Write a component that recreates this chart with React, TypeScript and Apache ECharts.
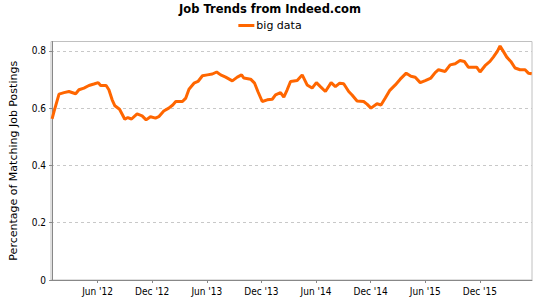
import React, { useEffect, useRef } from "react";
import * as echarts from "echarts";

// months since 1 Jan 2012 (fractional)
const months = [0.0,0.21,0.76,1.31,1.85,2.59,2.95,3.50,4.05,4.59,
  5.07,5.33,5.94,6.24,6.60,6.90,7.41,7.99,8.32,8.73,
  9.34,9.89,10.33,10.81,11.36,11.72,12.27,12.82,13.26,13.59,
  14.32,14.69,15.04,15.59,16.03,16.52,17.06,17.61,18.08,18.52,
  19.07,19.80,20.35,20.82,21.07,21.81,22.25,22.61,23.09,23.64,
  24.19,24.55,25.10,25.46,25.83,26.20,26.93,27.48,28.02,28.57,
  29.04,29.48,30.03,30.66,31.13,31.60,32.04,32.59,32.96,33.51,
  34.23,34.60,35.04,35.70,36.14,36.61,37.08,37.71,38.25,38.91,
  39.43,39.90,40.45,41.00,41.62,42.09,42.46,43.19,43.74,44.29,
  44.82,45.29,45.73,46.65,47.02,47.57,48.11,48.48,48.92,49.22,
  49.58,49.96,50.40,50.87,51.42,51.97,52.33,52.70];

const bigData = [0.562,0.588,0.649,0.654,0.658,0.650,0.664,0.670,0.679,0.684,
  0.689,0.679,0.679,0.664,0.629,0.608,0.596,0.561,0.567,0.562,
  0.580,0.573,0.559,0.570,0.565,0.570,0.590,0.600,0.611,0.623,
  0.623,0.635,0.666,0.687,0.693,0.713,0.716,0.719,0.726,0.716,
  0.708,0.695,0.708,0.716,0.705,0.701,0.687,0.658,0.623,0.629,
  0.631,0.646,0.654,0.638,0.664,0.693,0.696,0.716,0.681,0.670,
  0.689,0.675,0.658,0.689,0.675,0.687,0.685,0.658,0.646,0.625,
  0.623,0.614,0.600,0.615,0.611,0.635,0.661,0.681,0.701,0.722,
  0.711,0.708,0.689,0.696,0.705,0.724,0.734,0.728,0.751,0.755,
  0.766,0.763,0.743,0.743,0.726,0.748,0.763,0.778,0.798,0.817,
  0.798,0.778,0.763,0.740,0.734,0.734,0.722,0.720];

const xTickMonths = [5, 11, 17, 23, 29, 35, 41, 47];
const xTickLabels = ["Jun '12", "Dec '12", "Jun '13", "Dec '13", "Jun '14", "Dec '14", "Jun '15", "Dec '15"];
const yTicks = [0, 0.2, 0.4, 0.6, 0.8];

const tickFont = "'DejaVu Sans Condensed', 'Liberation Sans Narrow', sans-serif";

export default function App() {
  const ref = useRef<HTMLDivElement>(null);
  useEffect(() => {
    if (!ref.current) return;
    const chart = echarts.init(ref.current, null, { renderer: "svg" });
    chart.setOption({
      animation: false,
      backgroundColor: "#fff",
      title: {
        text: "Job Trends from Indeed.com",
        left: "center",
        top: -2,
        textStyle: { fontFamily: "DejaVu Sans", fontSize: 11.5, fontWeight: "bold", color: "#000" },
      },
      legend: {
        top: 15,
        left: "center",
        icon: "rect",
        itemWidth: 16,
        itemHeight: 3,
        itemGap: 10,
        textStyle: { fontFamily: "DejaVu Sans", fontSize: 11, color: "#000", padding: [0, 0, 0, -3] },
        data: ["big data"],
      },
      grid: {
        left: 50, right: 8, top: 41.5, bottom: 20,
        show: true, borderColor: "#c0c0c0", borderWidth: 1,
      },
      xAxis: {
        type: "value",
        min: -0.12,
        max: 52.73,
        axisLine: { show: true, lineStyle: { color: "#888" } },
        axisTick: { show: true, length: 3, customValues: xTickMonths, lineStyle: { color: "#888" } },
        axisLabel: {
          customValues: xTickMonths,
          margin: 6,
          fontFamily: tickFont,
          fontSize: 10,
          color: "#000",
          formatter: (v: number) => {
            const i = xTickMonths.indexOf(Math.round(v));
            return i >= 0 ? xTickLabels[i] : "";
          },
        },
        splitLine: { show: false },
      },
      yAxis: {
        type: "value",
        min: 0,
        max: 0.8325,
        name: "Percentage of Matching Job Postings",
        nameLocation: "middle",
        nameGap: 32,
        nameTextStyle: { fontFamily: "DejaVu Sans", fontSize: 11, color: "#000" },
        axisLine: { show: true, lineStyle: { color: "#888" } },
        axisTick: { show: true, length: 3, customValues: yTicks, lineStyle: { color: "#888" } },
        axisLabel: {
          customValues: yTicks,
          margin: 5,
          fontFamily: tickFont,
          fontSize: 10,
          color: "#000",
          formatter: (v: number) => (v === 0 ? "0" : String(Math.round(v * 10) / 10)),
        },
        splitLine: { show: true, lineStyle: { color: "#c8c8c8", type: [3, 3] } },
      },
      series: [
        {
          name: "big data",
          type: "line",
          showSymbol: false,
          symbol: "none",
          data: months.map((m, i) => [m, bigData[i]]),
          lineStyle: { color: "#ff6600", width: 3 },
          itemStyle: { color: "#ff6600" },
        },
      ],
    });
    return () => chart.dispose();
  }, []);
  return <div ref={ref} style={{ position: "fixed", left: 0, top: 0, width: 540, height: 300 }} />;
}
